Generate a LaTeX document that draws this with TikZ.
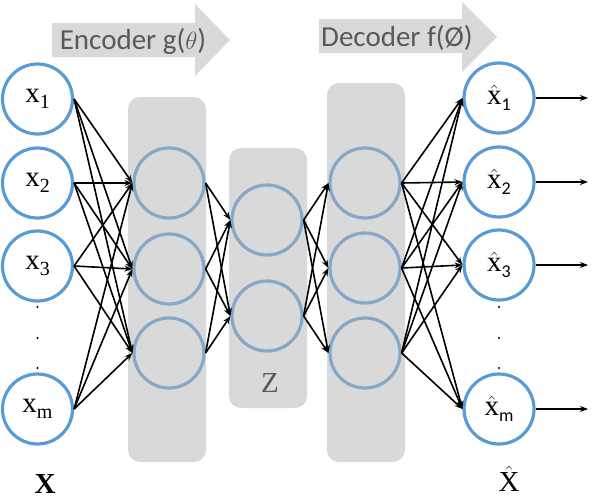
\documentclass[tikz,border=0pt]{standalone}
\usepackage{fontspec}
\newfontfamily\carl{Carlito}
\newfontfamily\ser{Liberation Serif}
\usetikzlibrary{arrows.meta}
\definecolor{inblue}{HTML}{5B9BD5}
\definecolor{hidblue}{HTML}{86A8C8}
\definecolor{laygray}{HTML}{D9D9D9}
\definecolor{txtgray}{HTML}{595959}
\newcommand{\isub}[1]{\raisebox{-6pt}{\fontsize{20}{20}\selectfont #1}}
\newcommand{\osub}[1]{\raisebox{-6pt}{\carl\fontsize{18}{20}\selectfont #1}}
\newcommand{\hx}{\ensuremath{\hat{\mbox{\ser x}}}}
\begin{document}
\begin{tikzpicture}[x=1pt,y=-1pt,
  inp/.style={circle,draw=inblue,line width=3.2pt,fill=white,minimum size=70pt,inner sep=0pt,font=\ser\fontsize{29}{30}\selectfont},
  hid/.style={circle,draw=hidblue,line width=3.2pt,minimum size=70pt,inner sep=0pt},
  layer/.style={fill=laygray,rounded corners=12pt},
  bigarrow/.style={fill=laygray},
  arrtext/.style={text=txtgray,font=\carl\fontsize{29}{30}\selectfont,inner sep=0pt},
  conn/.style={line width=1.6pt,-{Stealth[length=8pt,width=6pt]}},
  lbl/.style={inner sep=0pt,font=\ser\fontsize{29}{30}\selectfont}
]
\useasboundingbox (0,0) rectangle (592,496);
% layers
\fill[layer] (128,97) rectangle (206,462);
\fill[layer] (229,148) rectangle (307,408);
\fill[layer] (327,83) rectangle (405,462);
% big arrows
\fill[bigarrow] (52,23) -- (195,23) -- (195,4) -- (230,40) -- (195,76) -- (195,57) -- (52,57) -- cycle;
\node[arrtext] (enc) at (133,41) {Encoder g($\theta$)};
\fill[bigarrow] (319,19) -- (462,19) -- (462,2) -- (497,37) -- (462,72) -- (462,53) -- (319,53) -- cycle;
\node[arrtext] (dec) at (397,38) {Decoder f(Ø)};
% inputs
\node[inp] (x1) at (37.5,99) {x\isub{1}};
\node[inp] (x2) at (37.5,183) {x\isub{2}};
\node[inp] (x3) at (37.5,266) {x\isub{3}};
\node[inp] (xm) at (37.5,409) {x\isub{m}};
\foreach \y in {307,338,368} \fill (37.5,\y) circle (1.2pt);
% encoder hidden
\node[hid] (h1) at (169,183) {};
\node[hid] (h2) at (169,269) {};
\node[hid] (h3) at (169,353) {};
% code
\node[hid] (z1) at (267,220) {};
\node[hid] (z2) at (267,316) {};
% decoder hidden
\node[hid] (d1) at (365,183) {};
\node[hid] (d2) at (365,268) {};
\node[hid] (d3) at (365,353) {};
% outputs
\node[inp] (o1) at (499,98) {\hx\osub{1}};
\node[inp] (o2) at (499,182) {\hx\osub{2}};
\node[inp] (o3) at (499,265) {\hx\osub{3}};
\node[inp] (om) at (499,409) {\hx\osub{m}};
\foreach \y in {307,338,368} \fill (499,\y) circle (1.2pt);
% connectors
\foreach \a in {x1,x2,x3,xm} \foreach \b in {h1,h2,h3} \draw[conn] (\a.east) -- (\b.west);
\foreach \a in {h1,h2,h3} \foreach \b in {z1,z2} \draw[conn] (\a.east) -- (\b.west);
\foreach \a in {z1,z2} \foreach \b in {d1,d2,d3} \draw[conn] (\a.east) -- (\b.west);
\foreach \a in {d1,d2,d3} \foreach \b in {o1,o2,o3,om} \draw[conn] (\a.east) -- (\b.west);
\coordinate (e1) at (588,98);
\coordinate (e2) at (588,182);
\coordinate (e3) at (588,265);
\coordinate (em) at (588,409);
\foreach \a/\b in {o1/e1,o2/e2,o3/e3,om/em} \draw[conn] (\a.east) -- (\b);
% labels
\node[lbl,font=\ser\bfseries\fontsize{29}{30}\selectfont] (X) at (45,484) {X};
\node[lbl,text=txtgray] (Z) at (270,383) {Z};
\node[lbl] (Xh) at (509,479) {$\hat{\mbox{\ser X}}$};
\end{tikzpicture}
\end{document}
